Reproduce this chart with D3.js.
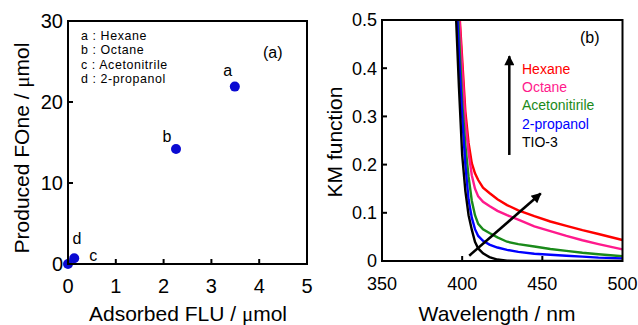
<!DOCTYPE html>
<html>
<head>
<meta charset="utf-8">
<script src="https://cdn.jsdelivr.net/npm/d3@7"></script>
<style>
  body { margin: 0; background: #fff; }
  svg { display: block; font-family: "Liberation Sans", Arial, sans-serif; }
</style>
</head>
<body>
<script>
// ---- panel (a) data ----
const solventLabels = ["a", "b", "c", "d"];
const solventNames = ["Hexane", "Octane", "Acetonitrile", "2-propanol"];
const adsorbedFLU = [3.49, 2.26, 0.13, 0.0];
const producedFOne = [21.9, 14.2, 0.7, 0.0];
const xTicksA = [0, 1, 2, 3, 4, 5];
const yTicksA = [0, 10, 20, 30];

// ---- panel (b) data ----
const wavelength = [396, 398, 400, 402, 404, 406, 408, 410, 413, 417, 422, 428, 435, 445, 455, 465, 475, 485, 500];
const kmHexane  = [0.70, 0.53, 0.42, 0.31, 0.245, 0.203, 0.182, 0.168, 0.152, 0.141, 0.128, 0.116, 0.105, 0.093, 0.082, 0.073, 0.064, 0.056, 0.0436];
const kmOctane  = [0.68, 0.52, 0.40, 0.29, 0.225, 0.178, 0.150, 0.134, 0.123, 0.114, 0.104, 0.095, 0.086, 0.072, 0.062, 0.052, 0.043, 0.035, 0.024];
const kmAceto   = [0.62, 0.47, 0.33, 0.24, 0.175, 0.125, 0.095, 0.077, 0.066, 0.058, 0.049, 0.040, 0.035, 0.030, 0.025, 0.021, 0.017, 0.014, 0.010];
const kmPropanol= [0.58, 0.43, 0.30, 0.20, 0.127, 0.090, 0.066, 0.052, 0.042, 0.034, 0.028, 0.023, 0.019, 0.015, 0.013, 0.011, 0.009, 0.007, 0.0055];
const kmTIO3    = [0.52, 0.36, 0.22, 0.145, 0.095, 0.065, 0.040, 0.026, 0.016, 0.008, 0.003, 0.0005, 0, 0, 0, 0, 0, 0, 0];
const seriesNames = ["Hexane", "Octane", "Acetonitirile", "2-propanol", "TIO-3"];
const seriesValues = [kmHexane, kmOctane, kmAceto, kmPropanol, kmTIO3];
const seriesColors = ["#ff0000", "#ff1a8c", "#1a8a1a", "#0000ff", "#000000"];
const xTicksB = [350, 400, 450, 500];
const yTicksB = [0, 0.1, 0.2, 0.3, 0.4, 0.5];

const width = 638, height = 325;
const svg = d3.select("body").append("svg")
  .attr("width", width).attr("height", height)
  .attr("viewBox", [0, 0, width, height]);

const defs = svg.append("defs");
defs.append("marker")
  .attr("id", "head")
  .attr("viewBox", "0 0 10 10")
  .attr("refX", 9).attr("refY", 5)
  .attr("markerWidth", 4.6).attr("markerHeight", 4)
  .attr("markerUnits", "strokeWidth")
  .attr("orient", "auto")
  .append("path").attr("d", "M0,0L10,5L0,10Z").attr("fill", "#000");

function frame(g, x, y, xTicks, yTicks, fmtX, fmtY, fs) {
  const [x0, x1] = x.range();
  const [y0, y1] = y.range();
  g.append("rect")
    .attr("x", x0).attr("y", y1)
    .attr("width", x1 - x0).attr("height", y0 - y1)
    .attr("fill", "none").attr("stroke", "#000").attr("stroke-width", 2);
  // inward ticks, bottom and left only
  g.selectAll(".xtick").data(xTicks.slice(1, -1)).join("line")
    .attr("class", "xtick")
    .attr("x1", d => x(d)).attr("x2", d => x(d))
    .attr("y1", y0).attr("y2", y0 - 5)
    .attr("stroke", "#000").attr("stroke-width", 2);
  g.selectAll(".ytick").data(yTicks.slice(1, -1)).join("line")
    .attr("class", "ytick")
    .attr("x1", x0).attr("x2", x0 + 5)
    .attr("y1", d => y(d)).attr("y2", d => y(d))
    .attr("stroke", "#000").attr("stroke-width", 2);
  g.selectAll(".xlab").data(xTicks).join("text")
    .attr("class", "xlab")
    .attr("x", d => x(d)).attr("y", y0 + 29)
    .attr("text-anchor", "middle").attr("font-size", fs)
    .text(fmtX);
  g.selectAll(".ylab").data(yTicks).join("text")
    .attr("class", "ylab")
    .attr("x", x0 - 5).attr("y", d => y(d) + fs * 0.35)
    .attr("text-anchor", "end").attr("font-size", fs)
    .text(fmtY);
}

// ---------- panel (a) ----------
const xA = d3.scaleLinear().domain([0, 5]).range([68, 307]);
const yA = d3.scaleLinear().domain([0, 30]).range([264, 21]);
const gA = svg.append("g");

gA.selectAll(".dot").data(adsorbedFLU).join("circle")
  .attr("class", "dot")
  .attr("cx", d => xA(d)).attr("cy", (d, i) => yA(producedFOne[i]))
  .attr("r", 5).attr("fill", "#0a0ad2");

frame(gA, xA, yA, xTicksA, yTicksA, d => String(d), d => String(d), 20);

// point labels, pixel offsets from each dot
const labelOffset = [[-7, -11], [-9, -7], [19, 3], [9, -20]];
gA.selectAll(".plab").data(solventLabels).join("text")
  .attr("class", "plab")
  .attr("x", (d, i) => xA(adsorbedFLU[i]) + labelOffset[i][0])
  .attr("y", (d, i) => yA(producedFOne[i]) + labelOffset[i][1])
  .attr("text-anchor", "middle").attr("font-size", 16)
  .text(d => d);

gA.selectAll(".legA").data(solventLabels).join("text")
  .attr("class", "legA")
  .attr("x", 81).attr("y", (d, i) => 40 + i * 14.4)
  .attr("font-size", 12.4)
  .attr("letter-spacing", 0.6)
  .text((d, i) => `${d} : ${solventNames[i]}`);

gA.append("text").attr("x", 263).attr("y", 58).attr("font-size", 16).text("(a)");

const xtA = gA.append("text").attr("x", 188).attr("y", 321)
  .attr("text-anchor", "middle").attr("font-size", 21);
xtA.append("tspan").text("Adsorbed FLU / ");
xtA.append("tspan").attr("font-family", "Liberation Serif, serif").text("μ");
xtA.append("tspan").text("mol");

const ytA = gA.append("text")
  .attr("transform", "translate(29,148) rotate(-90)")
  .attr("text-anchor", "middle").attr("font-size", 21);
ytA.append("tspan").text("Produced FOne / ");
ytA.append("tspan").attr("font-family", "Liberation Serif, serif").text("μ");
ytA.append("tspan").text("mol");

// ---------- panel (b) ----------
const xB = d3.scaleLinear().domain([350, 500]).range([382, 622.5]);
const yB = d3.scaleLinear().domain([0, 0.5]).range([261, 20]);
const gB = svg.append("g");

defs.append("clipPath").attr("id", "clipB")
  .append("rect").attr("x", 382).attr("y", 20).attr("width", 240.5).attr("height", 241);

const line = d3.line()
  .x((d, i) => xB(wavelength[i]))
  .y(d => yB(d));

gB.append("g").attr("clip-path", "url(#clipB)")
  .selectAll(".km").data(seriesValues).join("path")
  .attr("class", "km")
  .attr("d", d => line(d))
  .attr("fill", "none")
  .attr("stroke", (d, i) => seriesColors[i])
  .attr("stroke-width", 2.4);

frame(gB, xB, yB, xTicksB, yTicksB, d => String(d), d => d === 0 ? "0" : d3.format(".1f")(d), 18);

// arrows (data coordinates)
const arrowUp = [[429.4, 0.22], [429.4, 0.425]];
const arrowDiag = [[404.4, 0.011], [449, 0.14]];
gB.selectAll(".arrow").data([arrowUp, arrowDiag]).join("line")
  .attr("class", "arrow")
  .attr("x1", a => xB(a[0][0])).attr("y1", a => yB(a[0][1]))
  .attr("x2", a => xB(a[1][0])).attr("y2", a => yB(a[1][1]))
  .attr("stroke", "#000").attr("stroke-width", 2.5)
  .attr("marker-end", "url(#head)");

gB.selectAll(".legB").data(seriesNames).join("text")
  .attr("class", "legB")
  .attr("x", 522).attr("y", (d, i) => 74 + i * 18.2)
  .attr("font-size", 14)
  .attr("fill", (d, i) => seriesColors[i])
  .text(d => d);

gB.append("text").attr("x", 580).attr("y", 43).attr("font-size", 16).text("(b)");

gB.append("text").attr("x", 497).attr("y", 321)
  .attr("text-anchor", "middle").attr("font-size", 21)
  .text("Wavelength / nm");

gB.append("text")
  .attr("transform", "translate(342,142) rotate(-90)")
  .attr("text-anchor", "middle").attr("font-size", 21)
  .text("KM function");
</script>
</body>
</html>
